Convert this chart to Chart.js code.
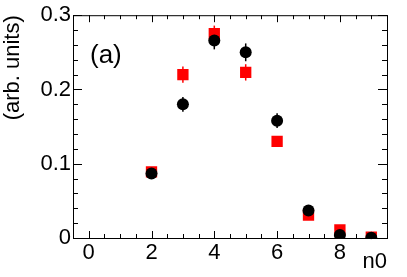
<!DOCTYPE html>
<html>
<head>
<meta charset="utf-8">
<script src="https://cdn.jsdelivr.net/npm/chart.js@4.4.0/dist/chart.umd.min.js"></script>
<style>
  html, body { margin: 0; padding: 0; background: #fff; }
  #wrap { width: 407px; height: 277px; }
</style>
</head>
<body>
<div id="wrap"><canvas id="c"></canvas></div>
<script>
// values
const nValues = [2, 3, 4, 5, 6, 7, 8, 9];
const blackY = [0.087, 0.180, 0.266, 0.250, 0.158, 0.037, 0.004, 0.0005];
const blackErr = [0.005, 0.010, 0.012, 0.012, 0.010, 0.005, 0.003, 0.002];
const redY = [0.089, 0.220, 0.275, 0.223, 0.130, 0.031, 0.011, 0.001];
const redErr = [0.005, 0.011, 0.011, 0.011, 0.007, 0.004, 0.003, 0.002];
const xTicks = [0, 2, 4, 6, 8];
const yTicks = [0, 0.1, 0.2, 0.3];

const FONT = "'Liberation Sans', Arial, Helvetica, sans-serif";

const toPoints = (ys, errs) => nValues.map((x, i) => ({ x: x, y: ys[i], err: errs[i] }));

// error bars, drawn under the markers
const errorBars = {
  id: 'errorBars',
  beforeDatasetsDraw(chart) {
    const ctx = chart.ctx;
    const xs = chart.scales.x, ys = chart.scales.y;
    chart.data.datasets.forEach(ds => {
      ctx.save();
      ctx.strokeStyle = ds.backgroundColor;
      ctx.lineWidth = 1.5;
      ds.data.forEach(p => {
        const px = xs.getPixelForValue(p.x);
        ctx.beginPath();
        ctx.moveTo(px, ys.getPixelForValue(p.y - p.err));
        ctx.lineTo(px, ys.getPixelForValue(p.y + p.err));
        ctx.stroke();
      });
      ctx.restore();
    });
  }
};

// ROOT style frame with inward ticks on all four sides
const frame = {
  id: 'frame',
  afterDraw(chart) {
    const ctx = chart.ctx;
    const a = chart.chartArea;
    const xs = chart.scales.x, ys = chart.scales.y;
    ctx.save();
    ctx.strokeStyle = '#000';
    ctx.lineWidth = 1;
    ctx.strokeRect(a.left + 0.5, a.top + 0.5, a.right - a.left, a.bottom - a.top);
    ctx.beginPath();
    for (let v = -0.5; v <= 9.5001; v += 0.5) {
      const px = Math.round(xs.getPixelForValue(v)) + 0.5;
      const len = xTicks.includes(v) ? 7 : 4;
      ctx.moveTo(px, a.bottom); ctx.lineTo(px, a.bottom - len);
      ctx.moveTo(px, a.top); ctx.lineTo(px, a.top + len);
    }
    for (let k = 0; k <= 15; k++) {
      const v = k * 0.02;
      const py = Math.round(ys.getPixelForValue(v)) + 0.5;
      const len = k % 5 === 0 ? 9 : 5;
      ctx.moveTo(a.left, py); ctx.lineTo(a.left + len, py);
      ctx.moveTo(a.right, py); ctx.lineTo(a.right - len, py);
    }
    ctx.stroke();
    // panel label
    ctx.fillStyle = '#000';
    ctx.font = '26px ' + FONT;
    ctx.textBaseline = 'alphabetic';
    ctx.fillText('(a)', a.left + 17, a.top + 48);
    ctx.restore();
  }
};

new Chart(document.getElementById('c'), {
  type: 'scatter',
  data: {
    datasets: [
      {
        label: 'black',
        data: toPoints(blackY, blackErr),
        backgroundColor: '#000',
        pointStyle: 'circle',
        pointRadius: 6,
        pointHoverRadius: 6,
        pointBorderWidth: 0
      },
      {
        label: 'red',
        data: toPoints(redY, redErr),
        backgroundColor: '#ff0000',
        pointStyle: 'rect',
        pointRadius: 8,
        pointHoverRadius: 8,
        pointBorderWidth: 0
      }
    ]
  },
  options: {
    responsive: true,
    maintainAspectRatio: false,
    animation: false,
    events: [],
    layout: { padding: { top: 14, right: 20, left: 0, bottom: 0 } },
    plugins: { legend: { display: false }, tooltip: { enabled: false } },
    scales: {
      x: {
        type: 'linear',
        min: -0.5,
        max: 9.5,
        afterBuildTicks: s => { s.ticks = xTicks.map(v => ({ value: v })); },
        afterFit: s => { s.height = 39; },
        grid: { display: false, drawTicks: false },
        border: { display: false },
        ticks: { color: '#000', font: { family: FONT, size: 22 }, padding: 2, maxRotation: 0 },
        title: {
          display: true, text: 'n0', align: 'end', color: '#000',
          font: { family: FONT, size: 22 }, padding: { top: 0, bottom: 2 }
        }
      },
      y: {
        type: 'linear',
        min: 0,
        max: 0.3,
        afterBuildTicks: s => { s.ticks = yTicks.map(v => ({ value: v })); },
        afterFit: s => { s.width = 73; },
        grid: { display: false, drawTicks: false },
        border: { display: false },
        ticks: {
          color: '#000', font: { family: FONT, size: 22 }, padding: 2,
          callback: v => (v === 0 ? '0' : v.toFixed(1))
        },
        title: {
          display: true, text: '(arb. units)', align: 'end', color: '#000',
          font: { family: FONT, size: 22 }, padding: { top: 0, bottom: 0 }
        }
      }
    }
  },
  plugins: [errorBars, frame]
});
</script>
</body>
</html>
